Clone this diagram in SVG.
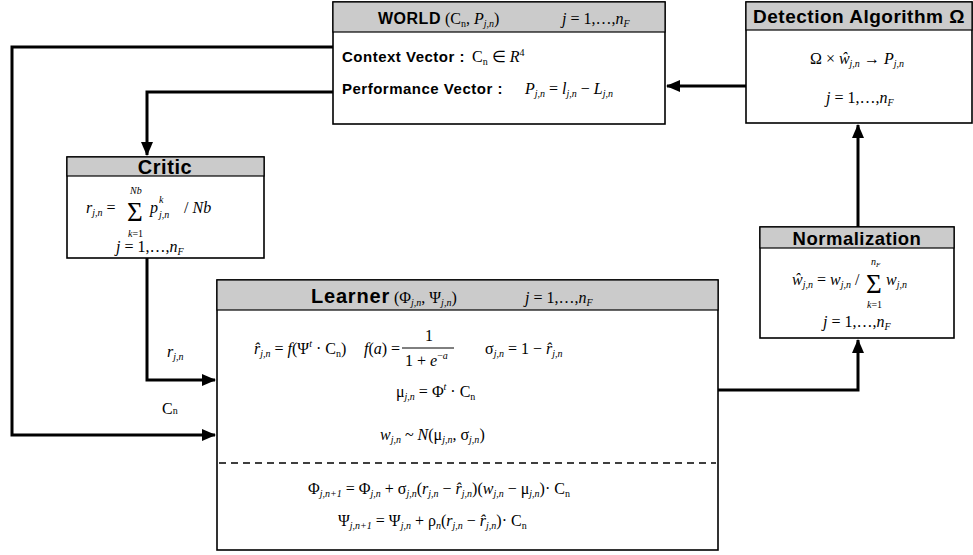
<svg xmlns="http://www.w3.org/2000/svg" width="973" height="555" viewBox="0 0 973 555">
<style>
.box{fill:#fff;stroke:#000;stroke-width:1.6}
.hdr{fill:#cbcbcb;stroke:#000;stroke-width:1.2}
.ht{font-family:"Liberation Sans",Arial,sans-serif;font-weight:bold;fill:#000}
.m{font-family:"Liberation Serif","Times New Roman",serif;font-size:16px;fill:#000}
.i{font-style:italic}
.s{font-size:10px}
.big{font-size:27px;font-style:normal}
.conn{fill:none;stroke:#000;stroke-width:3}
</style>
<defs>
<marker id="ah" markerUnits="userSpaceOnUse" markerWidth="14" markerHeight="12" refX="13" refY="6" orient="auto">
<path d="M0,0 L14,6 L0,12 Z" fill="#000"/>
</marker>
</defs>

<g id="connectors">
<path class="conn" d="M746,86 H667" marker-end="url(#ah)"/>
<path class="conn" d="M333,47 H12 V435 H215" marker-end="url(#ah)"/>
<path class="conn" d="M333,92 H147 V155" marker-end="url(#ah)"/>
<path class="conn" d="M147,258 V380 H215" marker-end="url(#ah)"/>
<path class="conn" d="M718,390 H858 V340" marker-end="url(#ah)"/>
<path class="conn" d="M858,228 V125" marker-end="url(#ah)"/>
<text class="m" x="167" y="357"><tspan class="i">r</tspan><tspan class="s i" baseline-shift="-3">j,n</tspan></text>
<text class="m" x="162" y="414" font-size="17">C<tspan class="s" font-size="11">n</tspan></text>
</g>

<g id="world">
<rect class="box" x="333" y="2" width="332" height="122"/>
<rect class="hdr" x="333" y="2" width="332" height="30"/>
<text x="378" y="24"><tspan class="ht" font-size="16" letter-spacing="0.5">WORLD</tspan><tspan class="m" font-size="20"> (</tspan><tspan class="m">C</tspan><tspan class="m s" baseline-shift="-3">n</tspan><tspan class="m">, </tspan><tspan class="m i">P</tspan><tspan class="m s i" baseline-shift="-3">j,n</tspan><tspan class="m" font-size="20">)</tspan></text>
<text class="m" x="562" y="24"><tspan class="i">j</tspan> = 1,…,<tspan class="i">n</tspan><tspan class="s i" baseline-shift="-3">F</tspan></text>
<text class="ht" x="342" y="62" font-size="15" letter-spacing="0.5">Context Vector :</text>
<text class="m" x="472" y="62">C<tspan class="s" baseline-shift="-3">n</tspan> ∈ <tspan class="i">R</tspan><tspan class="s" baseline-shift="6">4</tspan></text>
<text class="ht" x="342" y="94" font-size="15" letter-spacing="0.5">Performance Vector :</text>
<text class="m" x="525" y="94"><tspan class="i">P</tspan><tspan class="s i" baseline-shift="-3">j,n</tspan> = <tspan class="i">l</tspan><tspan class="s i" baseline-shift="-3">j,n</tspan> − <tspan class="i">L</tspan><tspan class="s i" baseline-shift="-3">j,n</tspan></text>
</g>

<g id="detection">
<rect class="box" x="746" y="2" width="226" height="121"/>
<rect class="hdr" x="746" y="2" width="226" height="28"/>
<text class="ht" x="859" y="23" font-size="19" letter-spacing="0.5" text-anchor="middle">Detection Algorithm Ω</text>
<text class="m" x="810" y="64">Ω × <tspan class="i">ŵ</tspan><tspan class="s i" baseline-shift="-3">j,n</tspan> → <tspan class="i">P</tspan><tspan class="s i" baseline-shift="-3">j,n</tspan></text>
<text class="m" x="826" y="103"><tspan class="i">j</tspan> = 1,…,<tspan class="i">n</tspan><tspan class="s i" baseline-shift="-3">F</tspan></text>
</g>

<g id="critic">
<rect class="box" x="67" y="157" width="197" height="101"/>
<rect class="hdr" x="67" y="157" width="197" height="19"/>
<text class="ht" x="165" y="174" font-size="20" letter-spacing="0.6" text-anchor="middle">Critic</text>
<text class="m" x="86" y="213"><tspan class="i">r</tspan><tspan class="s i" baseline-shift="-3">j,n</tspan> =</text>
<text class="m big" x="127" y="221">Σ</text>
<text class="m s i" x="130" y="194">Nb</text>
<text class="m s" x="128" y="237"><tspan class="i">k</tspan>=1</text>
<text class="m i" x="150" y="213">p</text>
<text class="m s i" x="159" y="218">j,n</text>
<text class="m s i" x="159" y="203">k</text>
<text class="m" x="184" y="213">/ <tspan class="i">Nb</tspan></text>
<text class="m" x="116" y="252"><tspan class="i">j</tspan> = 1,…,<tspan class="i">n</tspan><tspan class="s i" baseline-shift="-3">F</tspan></text>
</g>

<g id="normalization">
<rect class="box" x="760" y="227" width="194" height="111"/>
<rect class="hdr" x="760" y="227" width="194" height="21"/>
<text class="ht" x="857" y="245" font-size="18.5" letter-spacing="0.5" text-anchor="middle">Normalization</text>
<text class="m" x="792" y="285"><tspan class="i">ŵ</tspan><tspan class="s i" baseline-shift="-3">j,n</tspan> = <tspan class="i">w</tspan><tspan class="s i" baseline-shift="-3">j,n</tspan> /</text>
<text class="m big" x="866" y="293">Σ</text>
<text class="m i" x="886" y="285">w<tspan class="s i" baseline-shift="-3">j,n</tspan></text>
<text class="m s i" x="871" y="265">n<tspan font-size="7" baseline-shift="-2">F</tspan></text>
<text class="m s" x="867" y="308"><tspan class="i">k</tspan>=1</text>
<text class="m" x="823" y="327"><tspan class="i">j</tspan> = 1,…,<tspan class="i">n</tspan><tspan class="s i" baseline-shift="-3">F</tspan></text>
</g>

<g id="learner">
<rect class="box" x="217" y="280" width="501" height="270"/>
<rect class="hdr" x="217" y="280" width="501" height="30"/>
<text x="311" y="303"><tspan class="ht" font-size="20" letter-spacing="0.8">Learner</tspan><tspan class="m" font-size="24"> (</tspan><tspan class="m" font-size="18">Φ</tspan><tspan class="m s i" baseline-shift="-3">j,n</tspan><tspan class="m" font-size="18">, Ψ</tspan><tspan class="m s i" baseline-shift="-3">j,n</tspan><tspan class="m" font-size="24">)</tspan></text>
<text class="m" x="525" y="303"><tspan class="i">j</tspan> = 1,…,<tspan class="i">n</tspan><tspan class="s i" baseline-shift="-3">F</tspan></text>
<text class="m" x="254" y="354"><tspan class="i">r̂</tspan><tspan class="s i" baseline-shift="-3">j,n</tspan> = <tspan class="i">f</tspan>(Ψ<tspan class="s i" baseline-shift="7">t</tspan> · C<tspan class="s" baseline-shift="-3">n</tspan>)</text>
<text class="m" x="364" y="354"><tspan class="i">f</tspan>(<tspan class="i">a</tspan>) =</text>
<text class="m" x="425" y="341">1</text>
<line x1="402" y1="348" x2="454" y2="348" stroke="#000" stroke-width="1"/>
<text class="m" x="405" y="366">1 + <tspan class="i">e</tspan><tspan class="s" baseline-shift="7">−<tspan class="i">a</tspan></tspan></text>
<text class="m" x="485" y="354">σ<tspan class="s i" baseline-shift="-3">j,n</tspan> = 1 − <tspan class="i">r̂</tspan><tspan class="s i" baseline-shift="-3">j,n</tspan></text>
<text class="m" x="396" y="397">μ<tspan class="s i" baseline-shift="-3">j,n</tspan> = Φ<tspan class="s i" baseline-shift="7">t</tspan> · C<tspan class="s" baseline-shift="-3">n</tspan></text>
<text class="m" x="380" y="440"><tspan class="i">w</tspan><tspan class="s i" baseline-shift="-3">j,n</tspan> ~ <tspan class="i">N</tspan>(μ<tspan class="s i" baseline-shift="-3">j,n</tspan>, σ<tspan class="s i" baseline-shift="-3">j,n</tspan>)</text>
<line x1="219" y1="463" x2="716" y2="463" stroke="#000" stroke-width="1.5" stroke-dasharray="7,5"/>
<text class="m" x="308" y="494">Φ<tspan class="s i" baseline-shift="-3">j,n+1</tspan> = Φ<tspan class="s i" baseline-shift="-3">j,n</tspan> + σ<tspan class="s i" baseline-shift="-3">j,n</tspan>(<tspan class="i">r</tspan><tspan class="s i" baseline-shift="-3">j,n</tspan> − <tspan class="i">r̂</tspan><tspan class="s i" baseline-shift="-3">j,n</tspan>)(<tspan class="i">w</tspan><tspan class="s i" baseline-shift="-3">j,n</tspan> − μ<tspan class="s i" baseline-shift="-3">j,n</tspan>)· C<tspan class="s" baseline-shift="-3">n</tspan></text>
<text class="m" x="338" y="526">Ψ<tspan class="s i" baseline-shift="-3">j,n+1</tspan> = Ψ<tspan class="s i" baseline-shift="-3">j,n</tspan> + ρ<tspan class="s i" baseline-shift="-3">n</tspan>(<tspan class="i">r</tspan><tspan class="s i" baseline-shift="-3">j,n</tspan> − <tspan class="i">r̂</tspan><tspan class="s i" baseline-shift="-3">j,n</tspan>)· C<tspan class="s" baseline-shift="-3">n</tspan></text>
</g>
</svg>
